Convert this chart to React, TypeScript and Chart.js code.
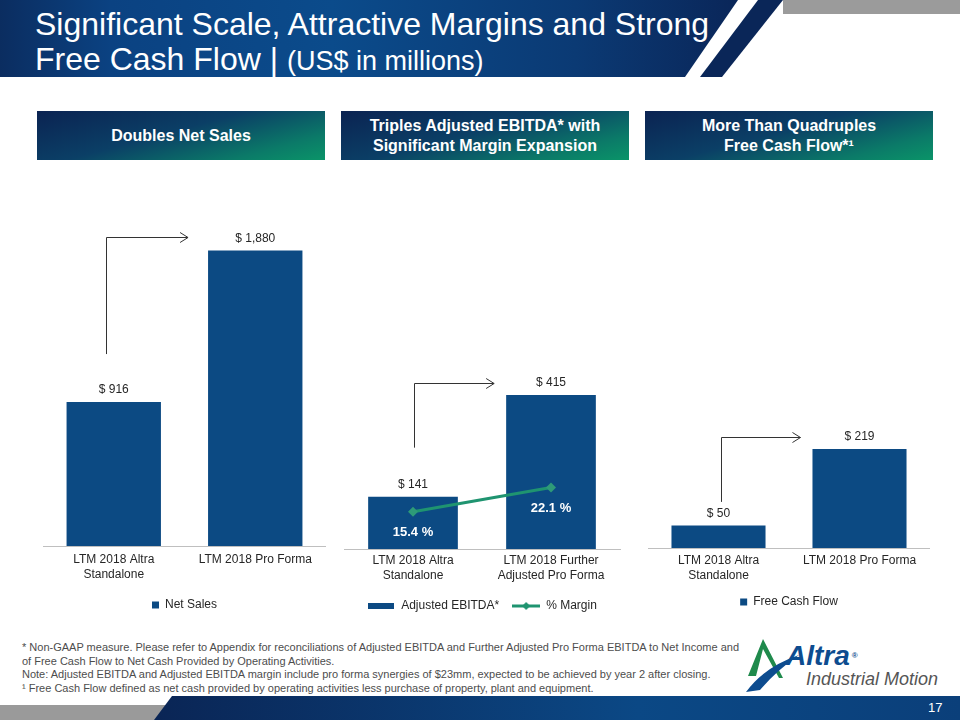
import React, { useEffect, useRef } from "react";
import { Chart, registerables } from "chart.js";

Chart.register(...registerables);

// ---------- data ----------
const salesCategories = [["LTM 2018 Altra", "Standalone"], "LTM 2018 Pro Forma"];
const salesValues = [916, 1880];
const salesAxisMax = 2201;
const salesArrow = [1221, 1967];

const ebitdaCategories = [["LTM 2018 Altra", "Standalone"], ["LTM 2018 Further", "Adjusted Pro Forma"]];
const ebitdaValues = [141, 415];
const marginValues = [15.4, 22.1];
const ebitdaAxisMax = 940;
const marginAxisRange = [5, 102.2];
const ebitdaArrow = [273, 446];

const fcfCategories = [["LTM 2018 Altra", "Standalone"], "LTM 2018 Pro Forma"];
const fcfValues = [50, 219];
const fcfAxisMax = 770;
const fcfArrow = [102, 245];

const FONT = "'Liberation Sans', Arial, Helvetica, sans-serif";
const BAR = "#0c4a83";
const GREEN = "#1f9470";
const TEXT = "#262626";

function makeOverlay(arrowVals: number[], startDx: number, endGap: number, pctValues?: number[]) {
  return {
    id: "overlay",
    afterDatasetsDraw(chart: any) {
      const ctx = chart.ctx;
      const yScale = chart.scales.y;
      const meta = chart.getDatasetMeta(0);
      const bars = meta.data;
      ctx.save();
      // value labels
      ctx.font = `12px ${FONT}`;
      ctx.fillStyle = TEXT;
      ctx.textAlign = "center";
      ctx.textBaseline = "middle";
      bars.forEach((b: any, i: number) => {
        const v = chart.data.datasets[0].data[i];
        ctx.fillText("$ " + v.toLocaleString("en-US"), b.x, b.y - 12);
      });
      // arrow
      const b0 = bars[0];
      const b1 = bars[1];
      const x0 = b0.x + startDx;
      const yA = yScale.getPixelForValue(arrowVals[0]);
      const yB = Math.round(yScale.getPixelForValue(arrowVals[1])) + 0.5;
      const xEnd = b1.x - b1.width / 2 - endGap;
      ctx.strokeStyle = "#333";
      ctx.lineWidth = 1;
      ctx.beginPath();
      ctx.moveTo(Math.round(x0) + 0.5, yA);
      ctx.lineTo(Math.round(x0) + 0.5, yB);
      ctx.lineTo(xEnd, yB);
      ctx.stroke();
      ctx.beginPath();
      ctx.moveTo(xEnd - 8, yB - 5);
      ctx.lineTo(xEnd, yB);
      ctx.lineTo(xEnd - 8, yB + 5);
      ctx.stroke();
      // percent labels
      if (pctValues) {
        const lm = chart.getDatasetMeta(1);
        ctx.font = `bold 13px ${FONT}`;
        ctx.fillStyle = "#ffffff";
        lm.data.forEach((p: any, i: number) => {
          ctx.fillText(pctValues[i].toFixed(1) + " %", p.x, p.y + 21);
        });
      }
      ctx.restore();
    },
  };
}

function baseOptions(max: number, legendPad: number, tickPad: number) {
  return {
    responsive: false,
    animation: false as const,
    devicePixelRatio: 1,
    layout: { padding: { top: 10, left: 0, right: 0, bottom: 0 } },
    scales: {
      x: {
        grid: { display: false, drawTicks: false },
        border: { display: true, color: "#bfbfbf", width: 1 },
        ticks: { color: TEXT, font: { size: 12, family: FONT, lineHeight: 1.25 }, padding: tickPad, maxRotation: 0 },
      },
      y: { display: false, min: 0, max },
    },
    plugins: {
      legend: {
        position: "bottom" as const,
        labels: {
          color: TEXT,
          font: { size: 12, family: FONT },
          boxWidth: 7,
          boxHeight: 7,
          padding: legendPad,
        },
      },
      tooltip: { enabled: false },
    },
  };
}

function SalesChart() {
  const ref = useRef<HTMLCanvasElement>(null);
  useEffect(() => {
    const c = new Chart(ref.current!, {
      type: "bar",
      data: {
        labels: salesCategories as any,
        datasets: [
          { label: "Net Sales", data: salesValues, backgroundColor: BAR, borderWidth: 0, barPercentage: 0.667, categoryPercentage: 1 },
        ],
      },
      options: baseOptions(salesAxisMax, 11, 6) as any,
      plugins: [makeOverlay(salesArrow, -8, 20)],
    });
    return () => c.destroy();
  }, []);
  return <canvas ref={ref} width={283} height={431} style={{ position: "absolute", left: 43, top: 190 }} />;
}

function FcfChart() {
  const ref = useRef<HTMLCanvasElement>(null);
  useEffect(() => {
    const c = new Chart(ref.current!, {
      type: "bar",
      data: {
        labels: fcfCategories as any,
        datasets: [
          { label: "Free Cash Flow", data: fcfValues, backgroundColor: BAR, borderWidth: 0, barPercentage: 0.667, categoryPercentage: 1 },
        ],
      },
      options: baseOptions(fcfAxisMax, 8, 5) as any,
      plugins: [makeOverlay(fcfArrow, 2, 12)],
    });
    return () => c.destroy();
  }, []);
  return <canvas ref={ref} width={282} height={428} style={{ position: "absolute", left: 648, top: 190 }} />;
}

function EbitdaChart() {
  const ref = useRef<HTMLCanvasElement>(null);
  useEffect(() => {
    const barImg = document.createElement("canvas");
    barImg.width = 26;
    barImg.height = 6;
    const bctx = barImg.getContext("2d")!;
    bctx.fillStyle = BAR;
    bctx.fillRect(0, 0, 26, 6);
    const lineImg = document.createElement("canvas");
    lineImg.width = 28;
    lineImg.height = 10;
    const lctx = lineImg.getContext("2d")!;
    lctx.strokeStyle = GREEN;
    lctx.lineWidth = 3;
    lctx.beginPath();
    lctx.moveTo(0, 5);
    lctx.lineTo(28, 5);
    lctx.stroke();
    lctx.fillStyle = GREEN;
    lctx.beginPath();
    lctx.moveTo(14, 1);
    lctx.lineTo(18, 5);
    lctx.lineTo(14, 9);
    lctx.lineTo(10, 5);
    lctx.closePath();
    lctx.fill();

    const opts: any = baseOptions(ebitdaAxisMax, 13, 4);
    opts.scales.y1 = { display: false, min: marginAxisRange[0], max: marginAxisRange[1] };
    opts.plugins.legend.labels = {
      color: TEXT,
      font: { size: 12, family: FONT },
      usePointStyle: true,
      pointStyleWidth: 28,
      padding: 13,
      sort: (a: any, b: any) => a.datasetIndex - b.datasetIndex,
      generateLabels: (chart: any) => {
        const items = Chart.defaults.plugins.legend.labels.generateLabels(chart);
        return items.map((it: any) => ({ ...it, pointStyle: it.datasetIndex === 0 ? barImg : lineImg }));
      },
    };
    const c = new Chart(ref.current!, {
      type: "bar",
      data: {
        labels: ebitdaCategories as any,
        datasets: [
          { type: "bar", label: "Adjusted EBITDA*", data: ebitdaValues, backgroundColor: BAR, borderWidth: 0, barPercentage: 0.65, categoryPercentage: 1, yAxisID: "y", order: 1 } as any,
          {
            type: "line",
            label: "% Margin",
            data: marginValues,
            borderColor: GREEN,
            backgroundColor: GREEN,
            borderWidth: 3,
            pointStyle: "rectRot",
            pointRadius: 5,
            pointBackgroundColor: "#2e9a78",
            pointBorderWidth: 0,
            yAxisID: "y1",
            order: 0,
          } as any,
        ],
      },
      options: opts,
      plugins: [makeOverlay(ebitdaArrow, 1, 12, marginValues)],
    });
    return () => c.destroy();
  }, []);
  return <canvas ref={ref} width={286} height={432} style={{ position: "absolute", left: 339, top: 190 }} />;
}

const boxStyle: React.CSSProperties = {
  position: "absolute",
  top: 111,
  width: 288,
  height: 49,
  background: "linear-gradient(165deg, #0b2352 0%, #0b3f66 45%, #0b7a68 80%, #0a9468 100%)",
  color: "#fff",
  fontWeight: "bold",
  fontSize: 16,
  lineHeight: "20px",
  display: "flex",
  alignItems: "center",
  justifyContent: "center",
  textAlign: "center",
  fontFamily: FONT,
  boxSizing: "border-box",
};

export default function App() {
  return (
    <div
      style={{
        position: "absolute",
        left: 0,
        top: 0,
        width: 960,
        height: 720,
        overflow: "hidden",
        background: "#fff",
        fontFamily: FONT,
      }}
    >
      <svg width={960} height={720} style={{ position: "absolute", left: 0, top: 0 }}>
        <defs>
          <linearGradient id="hdr" x1="0" y1="0" x2="1" y2="0">
            <stop offset="0" stopColor="#0b2d60" />
            <stop offset="0.15" stopColor="#0b4282" />
            <stop offset="0.45" stopColor="#0b4b8b" />
            <stop offset="0.78" stopColor="#0b3a74" />
            <stop offset="1" stopColor="#0a2659" />
          </linearGradient>
          <linearGradient id="ftr" x1="0" y1="0" x2="1" y2="0">
            <stop offset="0" stopColor="#0a2555" />
            <stop offset="0.6" stopColor="#0b4885" />
            <stop offset="1" stopColor="#0b3f7a" />
          </linearGradient>
        </defs>
        <polygon points="0,0 738,0 685,77 0,77" fill="url(#hdr)" />
        <polygon points="758,0 783,0 722,77 700,77" fill="#0a2658" />
        <rect x={783} y={0} width={177} height={14} fill="#9b9b9b" />
        <polygon points="0,705 166,705 156,720 0,720" fill="#9a9a9a" />
        <polygon points="172,696 960,696 960,720 154,720" fill="url(#ftr)" />
        {/* logo mark */}
        <path d="M763,639 L783,678 L779,678 L763,649 L756,676 L748,676 Z" fill="#1f8a4c" />
        <path d="M746,692 Q764,667 799,655 Q776,671 760,690 Z" fill="#0d4c8f" />
      </svg>

      <div style={{ position: "absolute", left: 35, top: 7, color: "#fff", fontSize: 32, lineHeight: "35px", whiteSpace: "nowrap" }}>
        Significant Scale, Attractive Margins and Strong
        <br />
        Free Cash Flow | <span style={{ fontSize: 27 }}>(US$ in millions)</span>
      </div>

      <div style={{ ...boxStyle, left: 37 }}>Doubles Net Sales</div>
      <div style={{ ...boxStyle, left: 341 }}>
        Triples Adjusted EBITDA* with
        <br />
        Significant Margin Expansion
      </div>
      <div style={{ ...boxStyle, left: 645 }}>
        More Than Quadruples
        <br />
        Free Cash Flow*¹
      </div>

      <SalesChart />
      <EbitdaChart />
      <FcfChart />

      <div
        style={{
          position: "absolute",
          left: 22,
          top: 641,
          color: "#4d4d4d",
          fontSize: 11,
          lineHeight: "13.5px",
          fontFamily: "'Liberation Sans Narrow', 'Arial Narrow', " + FONT,
          whiteSpace: "nowrap",
        }}
      >
        * Non-GAAP measure. Please refer to Appendix for reconciliations of Adjusted EBITDA and Further Adjusted Pro Forma EBITDA to Net Income and
        <br />
        of Free Cash Flow to Net Cash Provided by Operating Activities.
        <br />
        Note: Adjusted EBITDA and Adjusted EBITDA margin include pro forma synergies of $23mm, expected to be achieved by year 2 after closing.
        <br />¹ Free Cash Flow defined as net cash provided by operating activities less purchase of property, plant and equipment.
      </div>

      <div style={{ position: "absolute", left: 786, top: 642, color: "#0d4c8f", fontSize: 28, fontWeight: "bold", fontStyle: "italic", lineHeight: "28px", whiteSpace: "nowrap" }}>
        Altra<span style={{ fontSize: 8, verticalAlign: "top", fontStyle: "normal", marginLeft: 2 }}>®</span>
      </div>
      <div style={{ position: "absolute", left: 806, top: 670, color: "#555", fontSize: 18, fontStyle: "italic", lineHeight: "18px", whiteSpace: "nowrap" }}>
        Industrial Motion
      </div>

      <div style={{ position: "absolute", left: 928, top: 700, color: "#fff", fontSize: 13 }}>17</div>
    </div>
  );
}
